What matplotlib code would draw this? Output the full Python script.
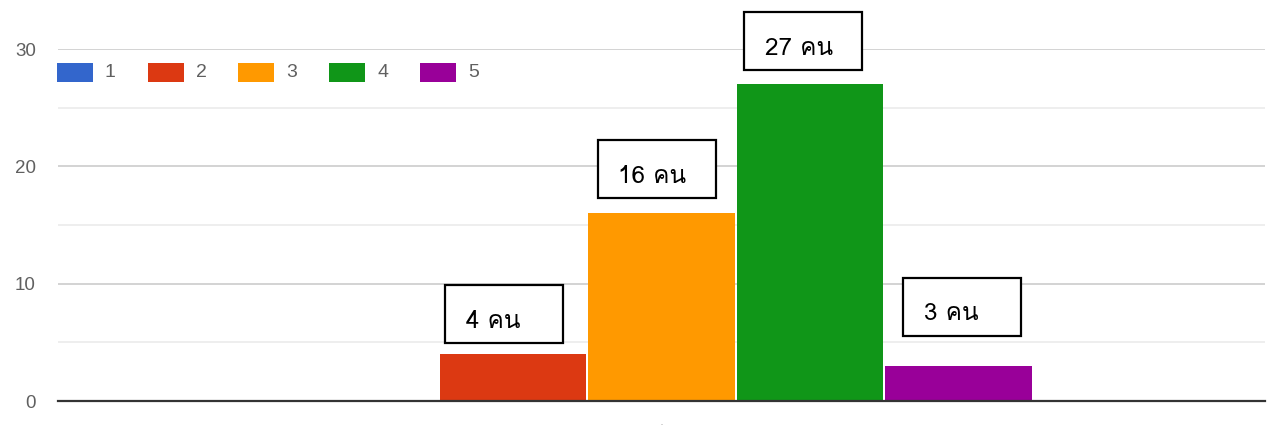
import matplotlib
matplotlib.use("Agg")
import matplotlib.pyplot as plt
from matplotlib.patches import Rectangle
from matplotlib import font_manager
from matplotlib.transforms import IdentityTransform
from matplotlib.ft2font import FT2Font
from matplotlib.ticker import MultipleLocator

# ---- data ----
series_labels = ["1", "2", "3", "4", "5"]
values = [0, 4, 16, 27, 3]
colors = ["#3366cc", "#dc3912", "#ff9900", "#109618", "#990099"]
annot_values = [4, 16, 27, 3]
annot_series = [1, 2, 3, 4]
annot_texts = ["4 คน", "16 คน", "27 คน", "3 คน"]
yticks = [0, 10, 20, 30]
category_label = "."

# ---- find a Thai-capable font ----
thai_family = None
for fe in font_manager.fontManager.ttflist:
    try:
        f = FT2Font(fe.fname)
        cm = f.get_charmap()
        if 0x0E04 in cm and 0x0E19 in cm:
            thai_family = fe.name
            break
    except Exception:
        pass
label_family = [thai_family, "DejaVu Sans"] if thai_family else ["DejaVu Sans"]

W, H = 1272, 438
fig = plt.figure(figsize=(W / 100, H / 100), dpi=100)
left_px, right_px, zero_px, top_px = 58, 1265, 401, 49
ax = fig.add_axes([left_px / W, (H - zero_px) / H, (right_px - left_px) / W, (zero_px - top_px) / H])

n = len(values)
pitch = 148.5 / (right_px - left_px)
bw = 146.5 / (right_px - left_px)
xs = [(i - (n - 1) / 2) * pitch for i in range(n)]
ax.bar(xs, values, width=bw, color=colors, zorder=3)

ax.set_xlim(-0.5, 0.5)
ax.set_ylim(0, 30)
ax.set_yticks(yticks)
ax.yaxis.set_minor_locator(MultipleLocator(5))
ax.grid(axis="y", which="major", color="#cccccc", lw=1.2, zorder=0)
ax.grid(axis="y", which="minor", color="#ebebeb", lw=1.2, zorder=0)
for s in ["top", "right", "left"]:
    ax.spines[s].set_visible(False)
ax.spines["bottom"].set_color("#333333")
ax.spines["bottom"].set_linewidth(1.6)
ax.spines["bottom"].set_zorder(4)
ax.tick_params(axis="y", which="both", length=0, pad=16, labelsize=13.5, labelcolor="#606060")
ax.set_yticklabels([str(t) for t in yticks], family="Liberation Sans")
ax.set_xticks([0])
ax.set_xticklabels([category_label], fontsize=9, color="#bbbbbb")
ax.tick_params(axis="x", length=0, pad=10)

# ---- legend (manual, Google-chart style) ----
leg_x0, leg_pitch, leg_top, leg_w, leg_h = 57, 90.7, 63, 36, 19
for i, (lab, col) in enumerate(zip(series_labels, colors)):
    x = leg_x0 + i * leg_pitch
    fig.patches.append(Rectangle((x, H - leg_top - leg_h), leg_w, leg_h,
                                 transform=IdentityTransform(), facecolor=col,
                                 edgecolor="none", figure=fig))
    fig.text((x + leg_w + 12) / W, (H - leg_top - leg_h / 2) / H, lab,
             fontsize=14, color="#606060", va="center", ha="left",
             family="Liberation Sans")

# ---- annotation boxes ----
fig.canvas.draw()
dx_px = [-9, -5, -7, 3]
gap_px = [11, 15, 14, 30]
box_w, box_h = 118, 58
for k, (si, v, t) in enumerate(zip(annot_series, annot_values, annot_texts)):
    cx, top_y = ax.transData.transform((xs[si], v))
    bx = cx + dx_px[k] - box_w / 2
    by = top_y + gap_px[k]
    fig.patches.append(Rectangle((bx, by), box_w, box_h, transform=IdentityTransform(),
                                 facecolor="white", edgecolor="black", lw=1.6,
                                 figure=fig, zorder=5))
    fig.text((bx + 21) / W, (by + box_h / 2 - 7) / H, t, fontsize=17.5, color="black",
             ha="left", va="center", family=label_family, zorder=6)

fig.savefig("out.png", dpi=100, facecolor="white")
